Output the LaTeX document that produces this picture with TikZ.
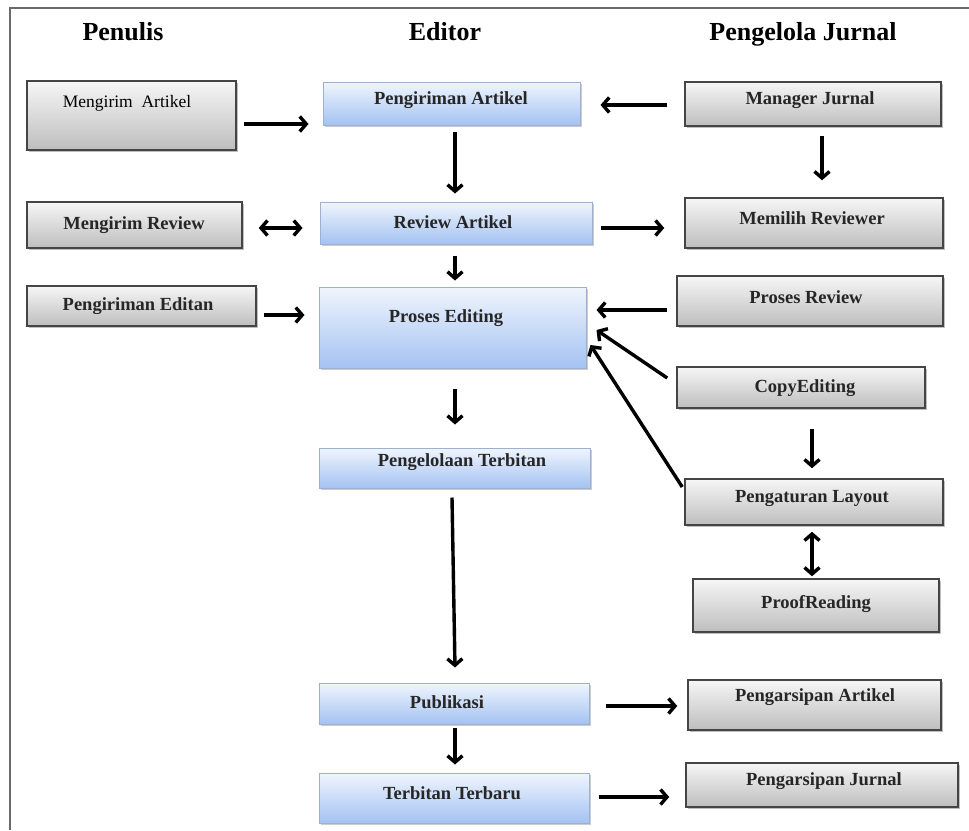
\documentclass[tikz,border=0pt]{standalone}
\usepackage{fontspec}
\setmainfont{Liberation Serif}
\usetikzlibrary{arrows.meta,shadows,calc}
\definecolor{gtop}{HTML}{F6F6F6}
\definecolor{gbot}{HTML}{BEBEBE}
\definecolor{gedge}{HTML}{454545}
\definecolor{btop}{HTML}{F0F5FD}
\definecolor{bbot}{HTML}{A4C2F2}
\definecolor{bedge}{HTML}{9DB0CE}
\definecolor{frame}{HTML}{6A6A6A}
\tikzset{
  gbox/.style={draw=gedge, line width=1.5pt, top color=gtop, bottom color=gbot, inner sep=0pt,
    drop shadow={shadow xshift=2pt, shadow yshift=-2pt, fill=black, opacity=0.25}},
  bbox/.style={draw=bedge, line width=1pt, top color=btop, bottom color=bbot, inner sep=0pt,
    drop shadow={shadow xshift=2pt, shadow yshift=-2pt, fill=black, opacity=0.2}},
  lbl/.style={font=\fontsize{18.5}{22}\selectfont\bfseries, inner sep=0pt, text=black!85},
  lblr/.style={font=\fontsize{17.5}{20}\selectfont, inner sep=0pt, text=black},
  head/.style={font=\fontsize{26}{30}\selectfont\bfseries, inner sep=0pt, anchor=base},
  arr/.style={line width=3.4pt, -{Straight Barb[length=6.5pt,width=15pt]}},
  darr/.style={line width=3.4pt, {Straight Barb[length=6.5pt,width=15pt]}-{Straight Barb[length=6.5pt,width=15pt]}}
}
\begin{document}
\begin{tikzpicture}[x=1pt,y=-1pt]
\useasboundingbox (0,0) rectangle (969,830);
\fill[white] (0,0) rectangle (969,830);
% frame
\draw[frame, line width=2pt] (969,8) coordinate (fr) -- (10,8) coordinate (fc) -- (10,830) coordinate (fb);

% headings
\node[head] (h1) at (123,40) {Penulis};
\node[head] (h2) at (445,40) {Editor};
\node[head] (h3) at (803,40) {Pengelola Jurnal};

% boxes
\node[gbox, minimum width=209pt, minimum height=69pt] (ma) at (131.5,115.5) {};
\node[bbox, minimum width=257pt, minimum height=43pt] (pa) at (451.5,103.5) {};
\node[gbox, minimum width=256pt, minimum height=44pt] (mj) at (813,104) {};
\node[gbox, minimum width=215pt, minimum height=46pt] (mr) at (134.5,225) {};
\node[bbox, minimum width=272pt, minimum height=42pt] (ra) at (456,223) {};
\node[gbox, minimum width=258pt, minimum height=50pt] (mrv) at (814,223) {};
\node[gbox, minimum width=229pt, minimum height=40pt] (pe) at (141.5,306) {};
\node[bbox, minimum width=267pt, minimum height=81pt] (pre) at (452.5,327.5) {};
\node[gbox, minimum width=266pt, minimum height=50pt] (prr) at (810,301) {};
\node[gbox, minimum width=248pt, minimum height=41pt] (ce) at (801,387.5) {};
\node[bbox, minimum width=271pt, minimum height=40pt] (pt) at (454.5,468) {};
\node[gbox, minimum width=258pt, minimum height=46pt] (pl) at (814,502) {};
\node[gbox, minimum width=246pt, minimum height=53pt] (pr) at (816,605.5) {};
\node[bbox, minimum width=270pt, minimum height=41pt] (pub) at (454,703.5) {};
\node[gbox, minimum width=253pt, minimum height=50pt] (pa2) at (814.5,705) {};
\node[bbox, minimum width=270pt, minimum height=50pt] (tt) at (454,798) {};
\node[gbox, minimum width=272pt, minimum height=44pt] (pj) at (822,785) {};

% labels
\node[lblr] (tma) at (127,103) {Mengirim\ \ Artikel};
\node[lbl] (tpa) at (451,100) {Pengiriman Artikel};
\node[lbl] (tmj) at (810,100) {Manager Jurnal};
\node[lbl] (tmr) at (134,225) {Mengirim Review};
\node[lbl] (tra) at (453,222) {Review Artikel};
\node[lbl] (tmrv) at (812,218) {Memilih Reviewer};
\node[lbl] (tpe) at (138,306) {Pengiriman Editan};
\node[lbl] (tpre) at (446,318) {Proses Editing};
\node[lbl] (tprr) at (806,297) {Proses Review};
\node[lbl] (tce) at (805,388) {CopyEditing};
\node[lbl] (tpt) at (462,462) {Pengelolaan Terbitan};
\node[lbl] (tpl) at (812,498) {Pengaturan Layout};
\node[lbl] (tpr) at (816,604) {ProofReading};
\node[lbl] (tpub) at (447,702) {Publikasi};
\node[lbl] (tpa2) at (815,697) {Pengarsipan Artikel};
\node[lbl] (ttt) at (452,793) {Terbitan Terbaru};
\node[lbl] (tpj) at (824,781) {Pengarsipan Jurnal};

% arrows
\draw[arr] ($(ma.east)+(7,8.5)$) -- ($(pa.west)+(-14,20.5)$);
\draw[arr] ($(mj.west)+(-17,1)$) -- ($(pa.east)+(20,1.5)$);
\draw[arr] ($(pa.south)+(3.5,6)$) -- ($(ra.north)+(-1,-8)$);
\draw[arr] ($(mj.south)+(9,9)$) -- ($(mrv.north)+(8,-17)$);
\draw[darr] ($(mr.east)+(16,3)$) -- ($(ra.west)+(-17,5)$);
\draw[arr] ($(ra.east)+(8,5)$) -- ($(mrv.west)+(-20,5)$);
\draw[arr] ($(ra.south)+(-1,11)$) -- ($(pre.north)+(2.5,-6)$);
\draw[arr] ($(pe.east)+(7,9)$) -- ($(pre.west)+(-14,-12.5)$);
\draw[arr] ($(prr.west)+(-9,9)$) -- ($(pre.east)+(10,-17.5)$);
\draw[arr] ($(ce.west)+(-9,-9.5)$) -- ($(pre.east)+(10,2.5)$);
\draw[arr] ($(pl.west)+(-2,-15)$) -- ($(pre.east)+(4,17.5)$);
\draw[arr] ($(pre.south)+(2.5,20)$) -- ($(pt.north)+(0.5,-23)$);
\draw[arr] ($(ce.south)+(11,20)$) -- ($(pl.north)+(-2,-10)$);
\draw[darr] ($(pl.south)+(-2,6)$) -- ($(pr.north)+(-4,-2)$);
\draw[arr] ($(pt.south)+(-2.5,9)$) -- ($(pub.north)+(1,-15)$);
\draw[arr] ($(pub.east)+(16,2.5)$) -- ($(pa2.west)+(-10,1)$);
\draw[arr] ($(pub.south)+(1,3)$) -- ($(tt.north)+(1,-8)$);
\draw[arr] ($(tt.east)+(9,-1)$) -- ($(pj.west)+(-16,12)$);
\end{tikzpicture}
\end{document}
